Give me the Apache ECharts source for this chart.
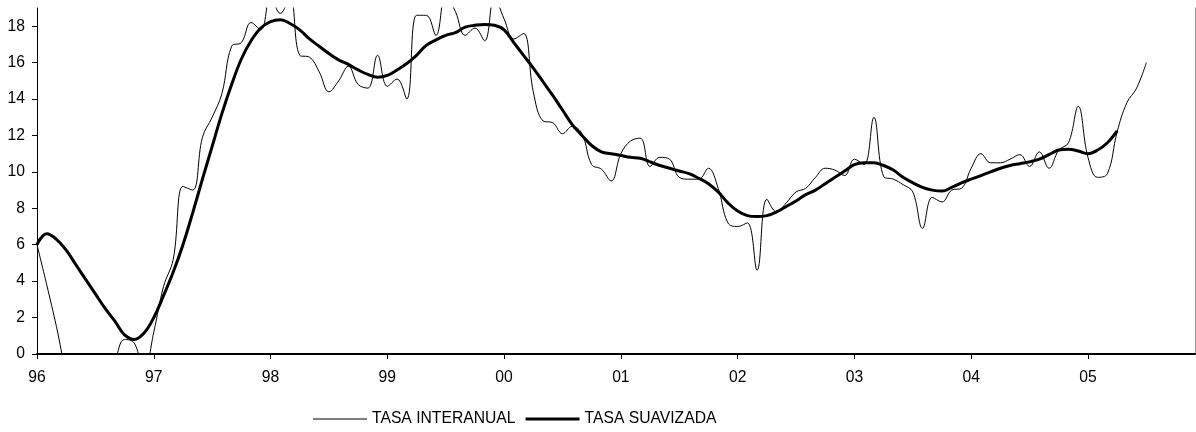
<!DOCTYPE html>
<html>
<head>
<meta charset="utf-8">
<script src="https://cdn.jsdelivr.net/npm/echarts@6/dist/echarts.min.js"></script>
<style>
  html, body { margin: 0; padding: 0; background: #fff; }
  #chart { width: 1196px; height: 432px; }
</style>
</head>
<body>
<div id="chart"></div>
<script>
// años del eje (una etiqueta por enero)
var years = ['96', '97', '98', '99', '00', '01', '02', '03', '04', '05'];
var yTicks = [0, 2, 4, 6, 8, 10, 12, 14, 16, 18];

// tasa interanual, mensual desde ene-96
var tasaInteranual = [
  6.0, 3.8, 1.5, -1.0, -2.5, -3.0, -2.6, -1.6, -0.4, 0.8, 0.6, -1.0,
  1.2, 3.7, 5.2, 9.2, 9.0, 11.9, 13.0, 14.3, 16.9, 17.1, 18.2, 17.8,
  19.6, 18.7, 19.6, 16.4, 16.3, 15.5, 14.4, 15.0, 15.8, 14.8, 14.6, 16.4,
  14.7, 15.1, 14.0, 18.6, 18.6, 17.5, 19.7, 18.8, 17.5, 17.9, 17.2, 19.6,
  18.4, 17.3, 17.6, 14.4, 12.8, 12.7, 12.1, 12.5, 12.1, 10.4, 10.15, 9.5,
  11.0, 11.7, 11.85, 10.3, 10.8, 10.7, 9.7, 9.6, 9.6, 10.2, 9.1, 7.2,
  7.0, 7.2, 4.6, 8.5, 7.8, 8.3, 8.9, 9.1, 9.7, 10.2, 10.1, 9.8,
  10.7, 10.4, 13.0, 9.75, 9.6, 9.3, 8.9, 6.9, 8.6, 8.35, 9.0, 9.1,
  10.2, 11.0, 10.5, 10.5, 10.7, 10.95, 10.3, 11.1, 10.2, 11.2, 11.6, 13.6,
  10.8, 9.7, 9.9, 12.2, 13.8, 14.6, 16.0
];

// tasa suavizada
var tasaSuavizada = [
  6.0, 6.6, 6.3, 5.7, 4.9, 4.1, 3.3, 2.5, 1.8, 1.05, 0.8, 1.15,
  2.0, 3.2, 4.5, 6.0, 7.75, 9.6, 11.4, 13.2, 14.8, 16.2, 17.2, 17.9,
  18.25, 18.35, 18.15, 17.8, 17.3, 16.9, 16.5, 16.15, 15.9, 15.6, 15.35, 15.2,
  15.3, 15.6, 15.95, 16.4, 16.95, 17.25, 17.5, 17.65, 17.95, 18.05, 18.1, 18.05,
  17.8, 17.1, 16.4, 15.7, 14.95, 14.2, 13.4, 12.6, 12.0, 11.45, 11.1, 11.0,
  10.9, 10.8, 10.75, 10.55, 10.35, 10.2, 10.05, 9.9, 9.65, 9.35, 8.9, 8.3,
  7.85, 7.6, 7.55, 7.6, 7.8, 8.1, 8.4, 8.75, 9.0, 9.35, 9.7, 10.05,
  10.4, 10.5, 10.5, 10.35, 10.1, 9.7, 9.4, 9.15, 9.0, 8.95, 9.15, 9.4,
  9.6, 9.8, 10.0, 10.2, 10.35, 10.45, 10.55, 10.7, 10.95, 11.2, 11.25, 11.15,
  11.0, 11.2, 11.6, 12.25
];

var months = [];
years.forEach(function (y) {
  for (var m = 1; m <= 12; m++) {
    months.push(y + '-' + (m < 10 ? '0' + m : m));
  }
});

var chart = echarts.init(document.getElementById('chart'));
var font = 'Liberation Sans, Arial, sans-serif';

chart.setOption({
  backgroundColor: '#fff',
  animation: false,
  grid: { left: 37, right: 1, top: 8, bottom: 78, containLabel: false },
  legend: {
    left: 313,
    top: 411,
    padding: 0,
    itemWidth: 54,
    itemHeight: 14,
    itemGap: 10,
    textStyle: { fontFamily: font, fontSize: 15.7, color: '#000' },
    data: [
      { name: 'TASA INTERANUAL', icon: 'path://M0,0H54V1H0Z' },
      { name: 'TASA SUAVIZADA', icon: 'path://M0,0H54V3H0Z' }
    ]
  },
  xAxis: [{
    type: 'category',
    data: months,
    boundaryGap: false,
    axisLine: { lineStyle: { color: '#000', width: 2 } },
    axisTick: { show: true, interval: 11, length: 5, lineStyle: { color: '#000' } },
    axisLabel: {
      interval: 11,
      margin: 16,
      fontFamily: font,
      fontSize: 15.7,
      color: '#000',
      formatter: function (v) { return v.slice(0, 2); }
    },
    splitLine: { show: false }
  }, {
    type: 'category',
    position: 'top',
    data: months,
    boundaryGap: false,
    axisLine: { lineStyle: { color: '#000', width: 1 } },
    axisTick: { show: false },
    axisLabel: { show: false }
  }],
  yAxis: [{
    type: 'value',
    min: 0,
    max: 19,
    interval: 2,
    axisLine: { show: true, lineStyle: { color: '#000', width: 1 } },
    axisTick: { show: true, length: 5, customValues: yTicks, lineStyle: { color: '#000' } },
    axisLabel: {
      customValues: yTicks,
      margin: 12,
      fontFamily: font,
      fontSize: 15.7,
      color: '#000'
    },
    splitLine: { show: false }
  }, {
    type: 'value',
    position: 'right',
    min: 0,
    max: 19,
    axisLine: { show: true, lineStyle: { color: '#999', width: 1 } },
    axisTick: { show: false },
    axisLabel: { show: false },
    splitLine: { show: false }
  }],
  series: [{
    name: 'TASA INTERANUAL',
    type: 'line',
    data: tasaInteranual,
    smooth: 0.4,
    symbol: 'none',
    clip: true,
    lineStyle: { color: '#000', width: 1 },
    itemStyle: { color: '#000' }
  }, {
    name: 'TASA SUAVIZADA',
    type: 'line',
    data: tasaSuavizada,
    smooth: 0.4,
    symbol: 'none',
    clip: true,
    lineStyle: { color: '#000', width: 3 },
    itemStyle: { color: '#000' }
  }]
});
</script>
</body>
</html>
